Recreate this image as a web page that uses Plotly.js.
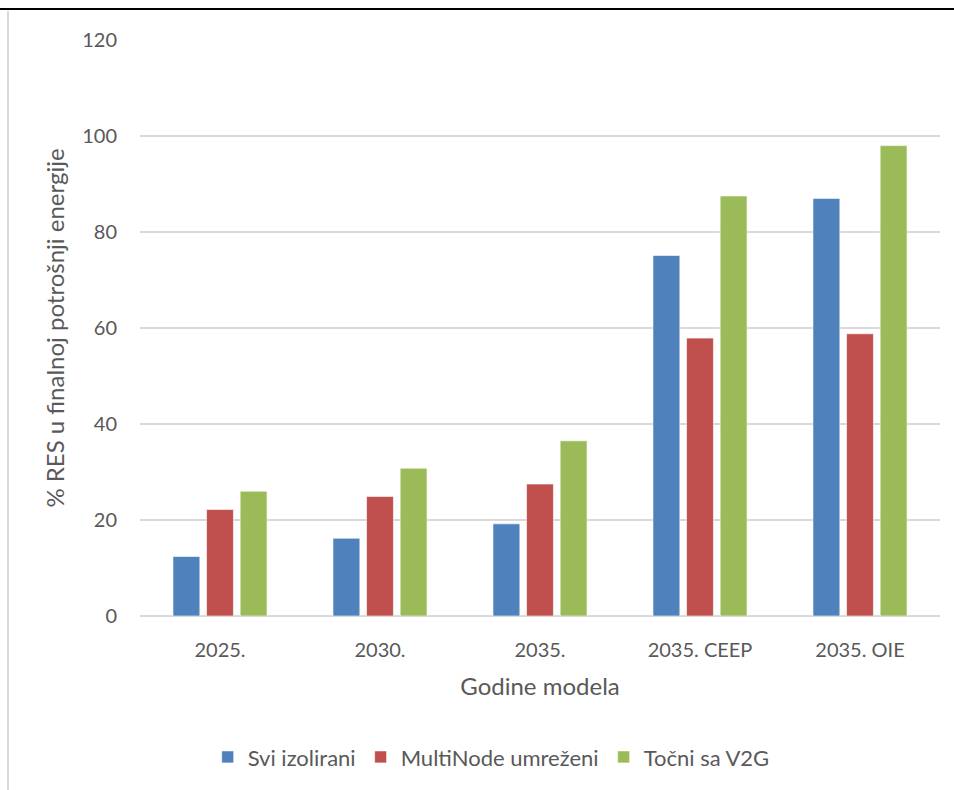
<!DOCTYPE html>
<html>
<head>
<meta charset="utf-8">
<script src="https://cdn.plot.ly/plotly-3.0.1.min.js"></script>
<style>html,body{margin:0;padding:0;background:#fff;}#chart{width:954px;height:790px;}</style>
</head>
<body>
<div id="chart"></div>
<script>
const categories = ["2025.", "2030.", "2035.", "2035. CEEP", "2035. OIE"];
const sviIzolirani = [12.4, 16.2, 19.2, 75.1, 87.0];
const multiNode = [22.2, 24.9, 27.5, 57.9, 58.8];
const tocniV2G = [26.0, 30.8, 36.5, 87.5, 98.0];
const seriesNames = ["Svi izolirani", "MultiNode umreženi", "Točni sa V2G"];
const colors = ["#4F81BD", "#C0504D", "#9BBB59"];
const yTicks = [0, 20, 40, 60, 80, 100, 120];

const font = "Lato, 'Open Sans', sans-serif";
const txt = "#595959";
const allSeries = [sviIzolirani, multiNode, tocniV2G];
const traces = allSeries.map((vals, i) => ({
  type: "bar",
  name: seriesNames[i],
  x: categories,
  y: vals,
  marker: {color: colors[i], line: {color: "rgba(255,255,255,0.6)", width: 1}},
  hoverinfo: "x+y"
}));

const layout = {
  width: 954, height: 790,
  margin: {l: 140, r: 14, t: 40, b: 174},
  paper_bgcolor: "#fff", plot_bgcolor: "#fff",
  barmode: "group", bargap: 0.37, bargroupgap: 0.2,
  font: {family: font, color: txt, size: 19},
  xaxis: {
    type: "category",
    showgrid: false, zeroline: false, showline: false,
    ticks: "outside", ticklen: 16, tickcolor: "rgba(0,0,0,0)",
    tickfont: {size: 20, color: txt, family: font},
    title: {text: "Godine modela", font: {size: 24, color: txt, family: font}, standoff: 18}
  },
  yaxis: {
    range: [0, 120], tickvals: yTicks, ticktext: yTicks.map(String),
    showgrid: true, gridcolor: "#D9D9D9", gridwidth: 1.5,
    zeroline: true, zerolinecolor: "#D9D9D9", zerolinewidth: 1.5,
    showline: false,
    ticks: "outside", ticklen: 18, tickcolor: "rgba(0,0,0,0)",
    tickfont: {size: 20, color: txt, family: font},
    title: {text: "% RES u finalnoj potrošnji energije", font: {size: 24, color: txt, family: font}, standoff: 10}
  },
  showlegend: true,
  legend: {
    orientation: "h", x: 0.439, xanchor: "center", y: -0.245, yanchor: "middle",
    font: {size: 22, color: txt, family: font}, traceorder: "normal",
    itemwidth: 30, tracegroupgap: 0
  },
  shapes: [
    {type: "line", xref: "paper", yref: "paper", x0: -0.2, x1: 1.1, y0: 1.0538, y1: 1.0538, line: {color: "#000", width: 2}},
    {type: "line", xref: "paper", yref: "paper", x0: -0.165, x1: -0.165, y0: 1.05, y1: -0.35, line: {color: "#D9D9D9", width: 2}}
  ]
};

Plotly.newPlot("chart", traces, layout, {displayModeBar: false, staticPlot: true});
</script>
</body>
</html>
